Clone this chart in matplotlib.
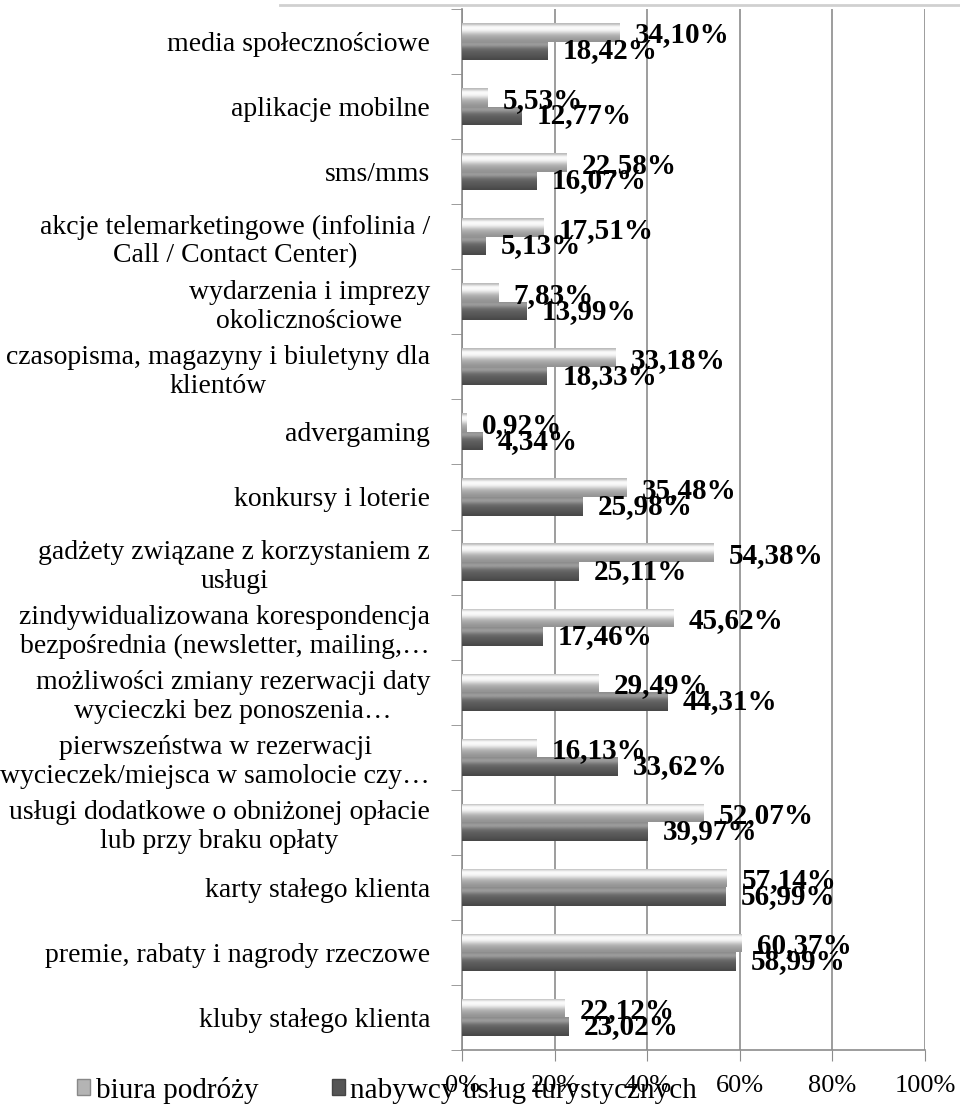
import numpy as np
import matplotlib.pyplot as plt
from matplotlib.patches import Patch
from matplotlib.lines import Line2D

plt.rcParams['font.family'] = ['Liberation Serif', 'DejaVu Serif']

# Kategorie (od góry) i udziały procentowe dla obu grup respondentów
kategorie = [
    "media społecznościowe",
    "aplikacje mobilne",
    "sms/mms",
    "akcje telemarketingowe (infolinia /\nCall / Contact Center)",
    "wydarzenia i imprezy\nokolicznościowe",
    "czasopisma, magazyny i biuletyny dla\nklientów",
    "advergaming",
    "konkursy i loterie",
    "gadżety związane z korzystaniem z\nusługi",
    "zindywidualizowana korespondencja\nbezpośrednia (newsletter, mailing,…",
    "możliwości zmiany rezerwacji daty\nwycieczki bez ponoszenia…",
    "pierwszeństwa w rezerwacji\nwycieczek/miejsca w samolocie czy…",
    "usługi dodatkowe o obniżonej opłacie\nlub przy braku opłaty",
    "karty stałego klienta",
    "premie, rabaty i nagrody rzeczowe",
    "kluby stałego klienta",
]
biura = [34.10, 5.53, 22.58, 17.51, 7.83, 33.18, 0.92, 35.48,
         54.38, 45.62, 29.49, 16.13, 52.07, 57.14, 60.37, 22.12]
nabywcy = [18.42, 12.77, 16.07, 5.13, 13.99, 18.33, 4.34, 25.98,
           25.11, 17.46, 44.31, 33.62, 39.97, 56.99, 58.99, 23.02]
serie = ["biura podróży", "nabywcy usług turystycznych"]
xticks = [0, 20, 40, 60, 80, 100]

fig = plt.figure(figsize=(9.6, 11.06), dpi=100)
ax = fig.add_axes([462/960, 1 - 1050/1106, (925 - 462)/960, (1050 - 9)/1106])

# cienka linia u góry strony
fig.add_artist(Line2D([280/960, 1], [1 - 5/1106, 1 - 5/1106],
                      color='#d0d0d0', linewidth=2, transform=fig.transFigure))

y = np.arange(len(kategorie))
h = 0.285

# gradienty imitujące wypukłe słupki
jasny = np.array([0.72, 0.97, 0.99, 0.95, 0.84, 0.72, 0.66, 0.62, 0.58])
ciemny = np.array([0.55, 0.64, 0.55, 0.44, 0.39, 0.36, 0.34, 0.32, 0.28])


def slupki(wartosci, przesuniecie, grad):
    bars = ax.barh(y + przesuniecie, wartosci, height=h, color='none',
                   edgecolor='none', zorder=3)
    img = np.repeat(grad[:, None], 3, axis=1)[:, None, :]
    for b in bars:
        x0, y0 = b.get_x(), b.get_y()
        w, hh = b.get_width(), b.get_height()
        im = ax.imshow(img, extent=[x0, x0 + w, y0 + hh, y0], aspect='auto',
                       interpolation='bicubic', zorder=3, origin='upper')
        im.set_clip_path(b)
    return bars


b1 = slupki(biura, -h/2, jasny)
b2 = slupki(nabywcy, h/2, ciemny)

for bars, vals, dy in ((b1, biura, 2), (b2, nabywcy, 0)):
    for b, v in zip(bars, vals):
        ax.annotate(f"{v:.2f}%".replace('.', ','),
                    (b.get_width(), b.get_y() + b.get_height()/2),
                    xytext=(11, -dy), textcoords='offset points',
                    ha='left', va='center', fontsize=21, fontweight='bold',
                    zorder=5, annotation_clip=False)

ax.set_xlim(0, 100)
ax.set_ylim(len(kategorie) - 0.5, -0.5)
ax.set_xticks(xticks)
ax.set_xticklabels([f"{t}%" for t in xticks], fontsize=19)
ax.xaxis.grid(True, color='#8c8c8c', linewidth=1.2, zorder=0)
ax.set_axisbelow(True)

ax.set_yticks(y)
ax.set_yticklabels(kategorie, fontsize=20, linespacing=1.2)
for lab in ax.get_yticklabels():
    lab.set_multialignment('center')
ax.set_yticks(np.arange(len(kategorie) + 1) - 0.5, minor=True)
ax.tick_params(axis='y', which='major', length=0, pad=23)
ax.tick_params(axis='y', which='minor', length=8, color='#8c8c8c')
ax.tick_params(axis='x', length=8, color='#8c8c8c', pad=10)

for s in ('top', 'right'):
    ax.spines[s].set_visible(False)
for s in ('left', 'bottom'):
    ax.spines[s].set_color('#8c8c8c')
    ax.spines[s].set_linewidth(1.2)

uchwyty = [Patch(facecolor='#b4b4b4', edgecolor='#888888', label=serie[0]),
           Patch(facecolor='#555555', edgecolor='#444444', label=serie[1])]
fig.legend(handles=uchwyty, loc='center left', ncol=2, frameon=False,
           bbox_to_anchor=(77/960, 1 - 1090/1106), fontsize=21,
           handlelength=0.45, handleheight=0.45, handletextpad=0.2,
           columnspacing=2.5, borderaxespad=0, borderpad=0)

fig.savefig("out.png", dpi=100)
